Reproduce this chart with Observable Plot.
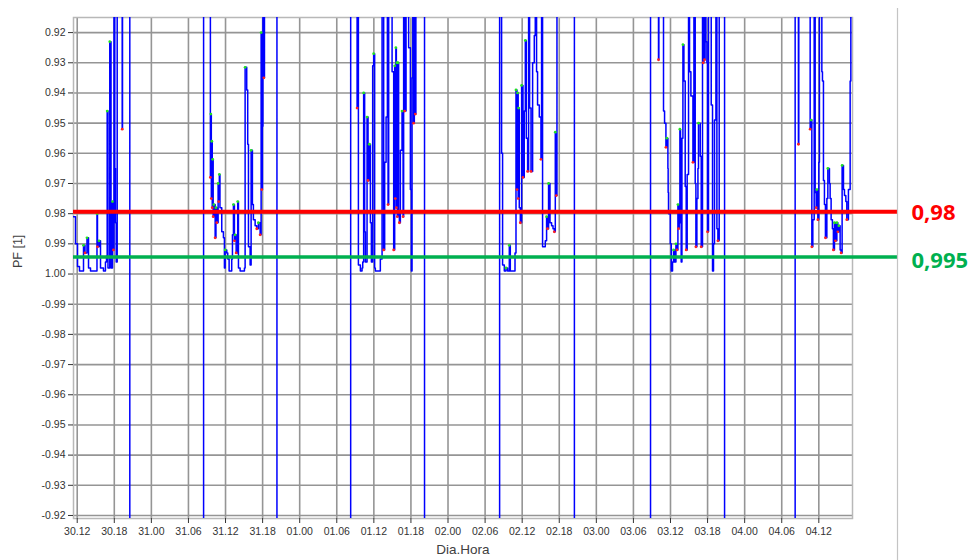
<!DOCTYPE html>
<html><head><meta charset="utf-8">
<script src="https://cdn.jsdelivr.net/npm/d3@7"></script>
<script src="https://cdn.jsdelivr.net/npm/@observablehq/plot@0.6"></script>
<style>
html,body{margin:0;padding:0;background:#fff;}
#chart svg{display:block;}
</style>
</head><body><div id="chart"></div>
<script>
// Hours since 30.12 and measured power factor (off-chart values stand for PF beyond ±0.92)
const day30 = [[-0.60,0.981],[-0.27,0.990],[0.05,0.9975],[0.37,0.999],[0.86,0.999],[1.02,0.9905],[1.26,0.993],[1.58,0.988],[1.83,0.998],[2.15,0.999],[2.96,0.999],[3.20,0.980],[3.28,0.991],[3.53,0.989],[3.77,0.998],[4.25,0.999],[4.57,0.996],[4.74,0.994],[4.85,0.946],[4.98,0.998],[5.27,0.923],[5.47,0.998],[5.71,0.976],[5.87,0.992],[5.95,0.5],[6.08,0.965],[6.19,0.983],[6.31,0.996],[6.47,0.5],[7.21,0.5],[7.28,0.952],[7.33,0.5],[8.46,0.5],[8.51,-0.5]];
const day31 = [[20.40,-0.5],[20.45,0.5],[21.51,0.5],[21.55,0.968],[21.62,0.947],[21.70,0.975],[21.78,0.956],[21.85,0.978],[21.92,0.962],[22.00,0.981],[22.10,0.977],[22.32,0.988],[22.45,0.978],[22.58,0.983],[22.80,0.970],[22.90,0.976],[23.00,0.967],[23.10,0.978],[23.39,0.986],[23.66,0.988],[23.82,0.998],[23.94,0.992],[24.20,0.993],[24.36,0.995],[24.58,0.999],[25.00,0.995],[25.12,0.987],[25.28,0.977],[25.44,0.989],[25.55,0.987],[25.72,0.993],[25.97,0.976],[26.09,0.998],[26.36,0.999],[26.90,0.999],[27.06,0.998],[27.17,0.9315],[27.43,0.939],[27.59,0.957],[27.71,0.991],[27.98,0.997],[28.14,0.959],[28.35,0.977],[28.51,0.982],[28.79,0.984],[29.05,0.985],[29.32,0.983],[29.60,0.987],[29.76,0.920],[29.86,0.972],[29.97,0.951],[30.05,0.5],[30.20,0.935],[30.30,0.5],[32.25,0.5],[32.32,-0.5]];
const day01 = [[44.20,-0.5],[44.25,0.5],[45.25,0.5],[45.29,0.945],[45.35,0.5],[45.45,0.5],[45.50,0.997],[45.82,0.999],[46.09,0.998],[46.20,0.996],[46.35,0.940],[46.51,0.986],[46.63,0.996],[46.90,0.948],[47.06,0.969],[47.27,0.957],[47.44,0.983],[47.60,0.996],[47.81,0.931],[47.97,0.927],[48.13,0.998],[48.24,0.999],[48.78,0.999],[49.05,0.995],[49.33,0.5],[49.45,0.5],[49.59,0.992],[49.75,0.963],[49.98,0.948],[50.19,0.5],[50.30,0.977],[50.40,0.5],[50.80,0.5],[50.95,0.933],[51.21,0.992],[51.37,0.931],[51.48,0.975],[51.56,0.925],[51.64,0.978],[51.72,0.930],[51.80,0.981],[51.90,0.930],[52.01,0.979],[52.13,0.983],[52.29,0.959],[52.56,0.946],[52.73,0.981],[52.82,0.5],[52.98,0.946],[53.21,0.5],[53.42,0.5],[53.63,0.925],[53.91,0.972],[54.07,0.999],[54.18,0.935],[54.30,0.5],[54.44,0.950],[54.55,0.5],[54.71,0.947],[54.80,0.5],[56.15,0.5],[56.20,-0.5]];
const day02 = [[68.30,-0.5],[68.35,0.5],[68.62,0.5],[68.67,0.960],[68.83,0.997],[69.11,0.999],[69.38,0.998],[69.64,0.999],[69.92,0.9905],[70.08,0.999],[70.40,0.999],[70.73,0.999],[70.84,0.993],[71.00,0.939],[71.16,0.972],[71.25,0.940],[71.35,0.975],[71.42,0.945],[71.53,0.978],[71.70,0.983],[71.91,0.9375],[72.13,0.968],[72.34,0.946],[72.51,0.9226],[72.67,0.955],[72.88,0.966],[73.04,0.5],[73.20,0.945],[73.43,0.966],[73.69,0.930],[73.96,0.921],[74.12,0.5],[74.33,0.933],[74.49,0.944],[74.77,0.948],[75.04,0.962],[75.14,0.5],[75.30,0.991],[75.58,0.991],[75.74,0.989],[75.95,0.981],[76.11,0.985],[76.27,0.970],[76.50,0.983],[76.76,0.984],[76.99,0.985],[77.20,0.986],[77.36,0.953],[77.45,0.970],[77.52,0.974],[77.63,0.5],[80.40,0.5],[80.45,-0.5]];
const day03 = [[92.70,-0.5],[92.77,0.5],[94.00,0.5],[94.06,0.929],[94.12,0.5],[94.80,0.5],[94.87,0.946],[95.04,0.950],[95.26,0.958],[95.40,0.955],[95.58,0.965],[95.62,0.973],[95.68,0.980],[95.96,0.990],[96.12,0.999],[96.33,0.996],[96.49,0.992],[96.65,0.996],[96.88,0.990],[97.04,0.992],[97.20,0.977],[97.30,0.985],[97.41,0.982],[97.52,0.952],[97.62,0.983],[97.73,0.996],[97.85,0.955],[98.01,0.924],[98.17,0.936],[98.38,0.971],[98.54,0.992],[98.70,0.967],[98.92,0.5],[99.08,0.933],[99.30,0.941],[99.46,0.941],[99.63,0.963],[99.79,0.5],[100.00,0.970],[100.11,0.991],[100.27,0.975],[100.44,0.965],[100.53,0.950],[100.81,0.961],[100.97,0.991],[101.18,0.5],[101.30,0.930],[101.40,0.5],[101.50,0.929],[101.60,0.5],[101.73,0.923],[101.89,0.930],[101.99,0.986],[102.15,0.5],[102.59,0.944],[102.80,0.999],[102.96,0.990],[103.12,0.949],[103.35,0.5],[103.51,0.985],[103.67,0.989],[103.88,0.5],[104.70,0.5],[104.75,-0.5]];
const day04 = [[116.10,-0.5],[116.17,0.5],[116.65,0.5],[116.70,0.957],[116.76,0.5],[118.55,0.5],[118.60,0.952],[118.76,0.949],[118.87,0.991],[119.03,0.982],[119.25,0.5],[119.41,0.973],[119.57,0.978],[119.68,0.972],[119.84,0.982],[120.00,0.963],[120.10,0.5],[120.33,0.5],[120.49,0.933],[120.59,0.936],[120.75,0.969],[120.91,0.977],[121.07,0.988],[121.30,0.975],[121.46,0.965],[121.72,0.970],[121.83,0.975],[121.99,0.982],[122.20,0.985],[122.36,0.992],[122.53,0.983],[122.69,0.989],[122.92,0.983],[123.08,0.986],[123.24,0.984],[123.45,0.992],[123.61,0.993],[123.77,0.964],[123.99,0.972],[124.15,0.974],[124.37,0.976],[124.53,0.982],[124.79,0.972],[125.07,0.936],[125.18,0.5],[125.45,0.5]];

const xTickHours = [0,6,12,18,24,30,36,42,48,54,60,66,72,78,84,90,96,102,108,114,120];
const xTickLabels = ["30.12","30.18","31.00","31.06","31.12","31.18","01.00","01.06","01.12","01.18","02.00","02.06","02.12","02.18","03.00","03.06","03.12","03.18","04.00","04.06","04.12"];
const yTickPF = [0.92,0.93,0.94,0.95,0.96,0.97,0.98,0.99,1.00,-0.99,-0.98,-0.97,-0.96,-0.95,-0.94,-0.93,-0.92];
const yTickLabels = ["0.92","0.93","0.94","0.95","0.96","0.97","0.98","0.99","1.00","-0.99","-0.98","-0.97","-0.96","-0.95","-0.94","-0.93","-0.92"];
const limitPF = [0.98, 0.995];
const limitLabels = ["0,98", "0,995"];
const limitColors = ["#ff0000", "#00b050"];

// PF axis: distance from unity, positive (inductive) up, negative (capacitive) down
const toS = p => p >= 0 ? 1 - p : -(1 + p);

const series = [...day30, ...day31, ...day01, ...day02, ...day03, ...day04]
  .map(([h, pf]) => ({h, pf, s: toS(pf)}));

const maxMarks = [], minMarks = [];
for (let i = 1; i < series.length - 1; i++) {
  const a = series[i-1].s, b = series[i].s, c = series[i+1].s;
  if (b > 0.09 || b < -0.09) continue;
  if (b > a && b > c) maxMarks.push(series[i]);
  else if (b < a && b < c && b > 0.006) minMarks.push(series[i]);
}

const W = 971, H = 560;
const mL = 73, mR = 119, mT = 17, mB = 42;
const xDomain = [-0.6, 125.45];
const yDomain = [-0.081, 0.085];
const xPix = d3.scaleLinear(xDomain, [mL, W - mR]);
const yPix = d3.scaleLinear(yDomain, [H - mB, mT]);
const xExt = xPix.invert(897);
const xLab = xPix.invert(911);

const yTickS = yTickPF.map(toS);
const yLabelOf = new Map(yTickS.map((s, i) => [s.toFixed(4), yTickLabels[i]]));
const xLabelOf = new Map(xTickHours.map((h, i) => [h, xTickLabels[i]]));

const limits = limitPF.map((pf, i) => ({s: toS(pf), label: limitLabels[i], color: limitColors[i]}));

const chart = Plot.plot({
  width: W, height: H,
  marginLeft: mL, marginRight: mR, marginTop: mT, marginBottom: mB,
  style: {fontFamily: "'Liberation Sans', Arial, sans-serif", fontSize: "10.5px", color: "#333", background: "#fff"},
  x: {domain: xDomain},
  y: {domain: yDomain},
  marks: [
    Plot.ruleY(yTickS, {stroke: "#959595", strokeWidth: 1.6}),
    Plot.ruleX(xTickHours, {stroke: "#959595", strokeWidth: 1.6}),
    Plot.frame({stroke: "#b8b8b8", strokeWidth: 1.5}),
    Plot.axisY(yTickS, {tickFormat: d => yLabelOf.get(d.toFixed(4)), tickSize: 5, tickPadding: 3, label: null}),
    Plot.axisX(xTickHours, {tickFormat: d => xLabelOf.get(d), tickSize: 5, tickPadding: 4, label: null}),
    Plot.line(series, {x: "h", y: "s", curve: "step-after", stroke: "#0000ff", strokeWidth: 1.5, clip: true}),
    Plot.dot(maxMarks, {x: "h", y: "s", r: 1.4, fill: "#22e022"}),
    Plot.dot(minMarks, {x: "h", y: "s", r: 1.4, fill: "#ff2020"}),
    Plot.ruleY([limits[0]], {y: "s", x1: xDomain[0], x2: xExt, stroke: limits[0].color, strokeWidth: 4, dy: -2}),
    Plot.ruleY([limits[1]], {y: "s", x1: xDomain[0], x2: xExt, stroke: limits[1].color, strokeWidth: 3.4, dy: -2}),
    Plot.text([limits[0]], {x: xLab, y: "s", text: "label", fill: limits[0].color, textAnchor: "start", fontSize: 22, fontWeight: "bold", fontFamily: "'Open Sans', sans-serif", dy: -1}),
    Plot.text([limits[1]], {x: xLab, y: "s", text: "label", fill: limits[1].color, textAnchor: "start", fontSize: 22, fontWeight: "bold", fontFamily: "'Open Sans', sans-serif", dy: 2}),
    Plot.ruleX([xExt], {y1: yPix.invert(8), y2: yPix.invert(H), stroke: "#c4c4c4", strokeWidth: 1.2}),
    Plot.text(["PF [1]"], {frameAnchor: "left", dx: -56, rotate: -90, fontSize: 12.5, fill: "#404040"}),
    Plot.text(["Dia.Hora"], {frameAnchor: "bottom", dy: 35, fontSize: 13.5, fill: "#404040"})
  ]
});
document.getElementById("chart").appendChild(chart);
</script>
</body></html>
